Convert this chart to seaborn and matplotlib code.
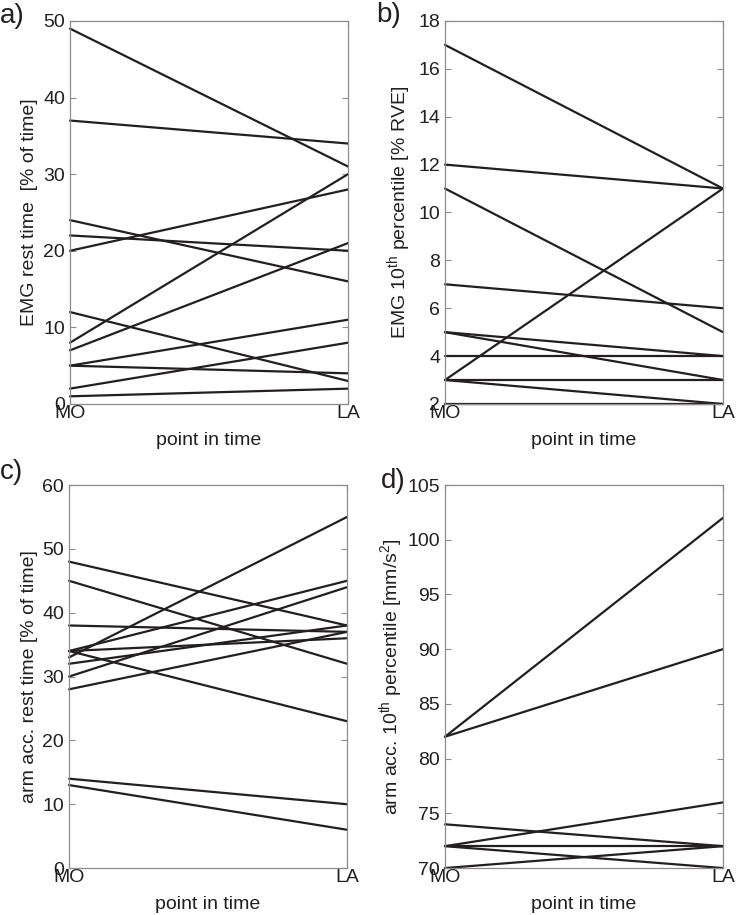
import numpy as np
import pandas as pd
import matplotlib
matplotlib.use('Agg')
import matplotlib.pyplot as plt
import seaborn as sns

# values: start (MO) and end (LA) for each subject
time_labels = ['MO', 'LA']

emg_rest_mo = [49, 37, 24, 22, 20, 8, 7, 12, 5, 5, 2, 1]
emg_rest_la = [31, 34, 16, 20, 28, 30, 21, 3, 11, 4, 8, 2]

emg_p10_mo = [17, 12, 11, 7, 5, 5, 4, 3, 3, 3, 2]
emg_p10_la = [11, 11, 5, 6, 4, 3, 4, 11, 3, 2, 2]

acc_rest_mo = [48, 45, 38, 34, 34, 34, 33, 32, 30, 28, 14, 13]
acc_rest_la = [38, 32, 37, 45, 36, 23, 55, 38, 44, 37, 10, 6]

acc_p10_mo = [82, 82, 74, 72, 72, 72, 70]
acc_p10_la = [102, 90, 72, 76, 72, 70, 72]

panels = [
    ('a)', emg_rest_mo, emg_rest_la, 'EMG rest time  [% of time]', (0, 50), np.arange(0, 51, 10)),
    ('b)', emg_p10_mo, emg_p10_la, 'EMG 10$^{th}$ percentile [% RVE]', (2, 18), np.arange(2, 19, 2)),
    ('c)', acc_rest_mo, acc_rest_la, 'arm acc. rest time [% of time]', (0, 60), np.arange(0, 61, 10)),
    ('d)', acc_p10_mo, acc_p10_la, 'arm acc. 10$^{th}$ percentile [mm/s$^2$]', (70, 105), np.arange(70, 106, 5)),
]

sns.set_theme(style='ticks')
plt.rcParams['font.family'] = ['Liberation Sans', 'DejaVu Sans']
plt.rcParams['mathtext.fontset'] = 'custom'
plt.rcParams['mathtext.rm'] = 'Liberation Sans'
plt.rcParams['mathtext.it'] = 'Liberation Sans'
plt.rcParams['mathtext.default'] = 'regular'

ink = '#231f20'
frame = '#8c8c8c'

fig = plt.figure(figsize=(7.36, 9.15), dpi=100)

# axes boxes in figure fraction (left, bottom, width, height)
boxes = [
    (0.0951, 0.5585, 0.3777, 0.4186),
    (0.6046, 0.5585, 0.3777, 0.4186),
    (0.0938, 0.0513, 0.3777, 0.4186),
    (0.6046, 0.0513, 0.3777, 0.4186),
]
letter_pos = [(0.0, 0.982), (0.511, 0.984), (0.0, 0.484), (0.518, 0.474)]
ylabel_x = [-0.115, -0.115, -0.112, -0.144]

for (letter, mo, la, ylabel, ylim, yticks), box, lpos, lx in zip(panels, boxes, letter_pos, ylabel_x):
    ax = fig.add_axes(box)
    n = len(mo)
    df = pd.DataFrame({
        'subject': list(range(n)) * 2,
        'time': [0] * n + [1] * n,
        'value': list(mo) + list(la),
    })
    sns.lineplot(data=df, x='time', y='value', units='subject', estimator=None,
                 color=ink, linewidth=1.6, legend=False, ax=ax, clip_on=False)
    ax.set_xlim(0, 1)
    ax.set_ylim(*ylim)
    ax.set_xticks([0, 1])
    ax.set_xticklabels(time_labels)
    ax.set_yticks(yticks)
    ax.tick_params(axis='both', direction='in', length=4, width=0.8, color=frame,
                   labelsize=14, labelcolor=ink, right=True, top=True)
    ax.tick_params(axis='x', pad=1)
    ax.tick_params(axis='y', pad=3.5)
    for sp in ax.spines.values():
        sp.set_visible(True)
        sp.set_color(frame)
        sp.set_linewidth(0.9)
    ax.set_xlabel('point in time', fontsize=14, color=ink)
    ax.set_ylabel(ylabel, fontsize=14, color=ink)
    ax.xaxis.set_label_coords(0.5, -0.073)
    ax.yaxis.set_label_coords(lx, 0.5)
    fig.text(lpos[0], lpos[1], letter, fontsize=20, color=ink, ha='left', va='center')

fig.savefig('out.png', dpi=100)
